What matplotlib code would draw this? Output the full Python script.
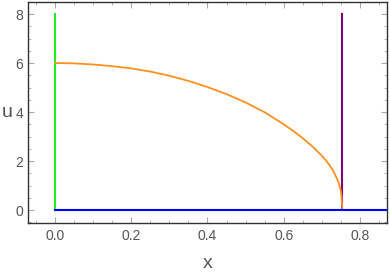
import matplotlib
matplotlib.use('Agg')
import matplotlib.pyplot as plt
from matplotlib.ticker import MultipleLocator

plt.rcParams['font.family'] = ['Liberation Sans', 'DejaVu Sans']

# orange curve
x_curve = [0.0, 0.05, 0.1, 0.15, 0.2, 0.25, 0.3, 0.35, 0.4, 0.45, 0.5, 0.55,
           0.6, 0.625, 0.65, 0.675, 0.7, 0.71, 0.72, 0.73, 0.74, 0.745, 0.75,
           0.752, 0.754]
u_curve = [6.0, 5.985, 5.94, 5.87, 5.78, 5.65, 5.48, 5.27, 5.02, 4.73, 4.39, 3.99,
           3.50, 3.23, 2.93, 2.60, 2.22, 2.04, 1.84, 1.60, 1.28, 1.08, 0.80,
           0.55, 0.0]

# vertical boundaries and base line
x_left = 0.0
x_front = 0.754
u_top = 8.0
x_base = [0.0, 1.0]
u_base = [0.0, 0.0]

fig = plt.figure(figsize=(3.9, 2.77), dpi=100)
ax = fig.add_axes([0.073, 0.195, 0.919, 0.796])

ax.plot([x_left, x_left], [0, u_top], color='#22ee22', lw=1.5)
ax.plot([x_front, x_front], [0, u_top], color='#800080', lw=1.5)
ax.plot(x_curve, u_curve, color='#ff9020', lw=1.3, solid_joinstyle='round')
ax.plot(x_base, u_base, color='#0000ff', lw=1.5)

ax.set_xlim(-0.07, 0.871)
ax.set_ylim(-0.53, 8.47)

ax.xaxis.set_major_locator(MultipleLocator(0.2))
ax.xaxis.set_minor_locator(MultipleLocator(0.05))
ax.yaxis.set_major_locator(MultipleLocator(2))
ax.yaxis.set_minor_locator(MultipleLocator(0.5))
ax.xaxis.set_major_formatter(plt.FuncFormatter(lambda v, p: '%.1f' % v))
ax.yaxis.set_major_formatter(plt.FuncFormatter(lambda v, p: '%d' % round(v)))

ax.tick_params(which='both', direction='in', top=True, right=True,
               color='#aaaaaa', labelcolor='#555555', labelsize=10, pad=4)
ax.tick_params(which='major', length=4, width=0.8)
ax.tick_params(which='minor', length=2, width=0.6)

for s in ax.spines.values():
    s.set_color('#333333')
    s.set_linewidth(1.0)

ax.set_xlabel('x', fontsize=14, color='#555555', labelpad=9)
ax.set_ylabel('u', fontsize=14, color='#555555', rotation=0, labelpad=6, va='center')

fig.savefig('out.png', dpi=100)
